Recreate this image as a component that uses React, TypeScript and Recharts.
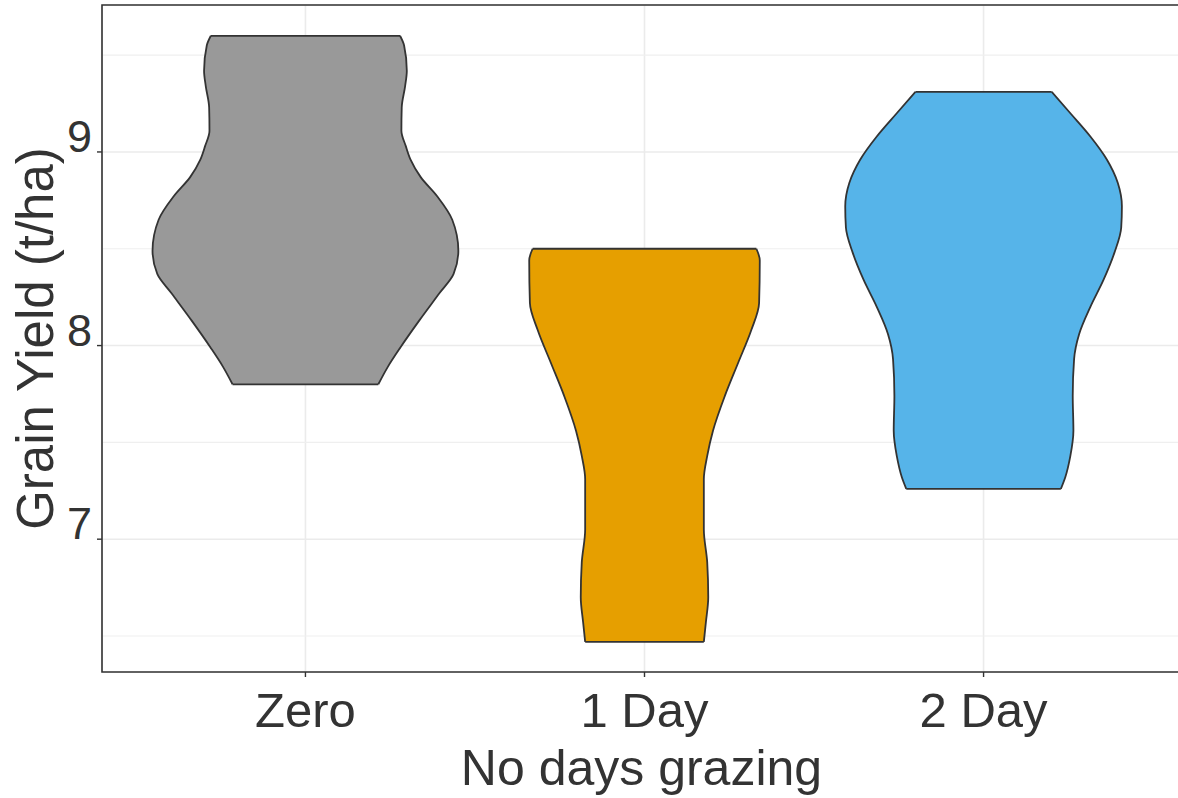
import { ComposedChart, Area, XAxis, YAxis, CartesianGrid, ReferenceLine, ReferenceArea } from 'recharts';

const categories = ['Zero', '1 Day', '2 Day'];

// yield levels (t/ha) read down each violin, with the half width at that level
// (half width in units of the distance between two categories)
const zeroYield = [9.6, 9.55, 9.42, 9.34, 9.23, 9.11, 9.03, 8.96, 8.87, 8.77, 8.65, 8.49, 8.37, 8.27, 8.13, 7.99, 7.89, 7.8];
const zeroHalfWidth = [0.279, 0.291, 0.299, 0.294, 0.284, 0.283, 0.296, 0.31, 0.34, 0.389, 0.433, 0.451, 0.437, 0.395, 0.336, 0.28, 0.243, 0.215];

const oneDayYield = [8.5, 8.44, 8.22, 8.08, 7.91, 7.74, 7.56, 7.43, 7.31, 7.05, 6.88, 6.7, 6.57, 6.47];
const oneDayHalfWidth = [0.33, 0.34, 0.338, 0.315, 0.276, 0.237, 0.202, 0.185, 0.175, 0.175, 0.185, 0.188, 0.181, 0.175];

const twoDayYield = [9.31, 9.2, 9.08, 8.96, 8.84, 8.72, 8.61, 8.48, 8.34, 8.2, 8.06, 7.93, 7.74, 7.56, 7.43, 7.32, 7.26];
const twoDayHalfWidth = [0.201, 0.256, 0.315, 0.364, 0.396, 0.408, 0.406, 0.386, 0.354, 0.315, 0.282, 0.267, 0.263, 0.265, 0.256, 0.241, 0.228];

const yTicks = [7, 8, 9];
const yMinorTicks = [6.5, 7.5, 8.5, 9.5];
const yDomain = [6.314, 9.759];
const xDomain = [0.4, 3.6];
const xTicks = [1, 2, 3];

const violins = [
  { key: 'zero', yields: zeroYield, widths: zeroHalfWidth, fill: '#999999' },
  { key: 'oneDay', yields: oneDayYield, widths: oneDayHalfWidth, fill: '#E69F00' },
  { key: 'twoDay', yields: twoDayYield, widths: twoDayHalfWidth, fill: '#56B4E9' },
];

// one row per level; the other violins get empty ranges so each area only sees its own rows
const rows = violins.flatMap((v, i) =>
  v.yields.map((y, j) => {
    const row: Record<string, any> = { y };
    violins.forEach((w, k) => {
      row[w.key] = k === i ? [i + 1 - v.widths[j], i + 1 + v.widths[j]] : [null, null];
    });
    return row;
  })
);

const FONT = '"Liberation Sans", Arial, sans-serif';
const TEXT = '#333333';
const OUTLINE = '#333333';

const XTick = (props: any) => {
  const { x, y, payload } = props;
  return (
    <text x={x} y={y + 48} textAnchor="middle" fontSize={49} fill={TEXT} fontFamily={FONT}>
      {categories[payload.value - 1]}
    </text>
  );
};

const YTick = (props: any) => {
  const { x, y, payload } = props;
  return (
    <text x={x - 3} y={y} textAnchor="end" fontSize={45} fill={TEXT} fontFamily={FONT}>
      {payload.value}
    </text>
  );
};

const XTitle = (props: any) => {
  const vb = props.viewBox || { x: 102, y: 672, width: 1085, height: 126 };
  return (
    <text x={vb.x + vb.width / 2 - 3} y={vb.y + vb.height - 13} textAnchor="middle" fontSize={50} fill={TEXT} fontFamily={FONT}>
      No days grazing
    </text>
  );
};

const YTitle = (props: any) => {
  const vb = props.viewBox || { x: 0, y: 5, width: 102, height: 667 };
  const cx = vb.x + 53;
  const cy = vb.y + vb.height / 2;
  return (
    <text x={cx} y={cy} transform={`rotate(-90 ${cx} ${cy})`} textAnchor="middle" fontSize={51} fill={TEXT} fontFamily={FONT}>
      Grain Yield (t/ha)
    </text>
  );
};

export default function App() {
  return (
    <div style={{ width: 1178, height: 798, overflow: 'hidden', background: '#fff' }}>
      <style>{'body{margin:0;overflow:hidden}'}</style>
      <ComposedChart
        width={1190}
        height={798}
        data={rows}
        layout="vertical"
        margin={{ top: 5, right: 3, left: 0, bottom: 0 }}
        style={{ fontFamily: FONT }}
      >
        <CartesianGrid stroke="#EBEBEB" strokeWidth={1.6} />
        {yMinorTicks.map((t) => (
          <ReferenceLine key={t} y={t} stroke="#EFEFEF" strokeWidth={1.2} zIndex={-90} />
        ))}
        <XAxis
          type="number"
          domain={xDomain}
          ticks={xTicks}
          allowDataOverflow
          axisLine={false}
          tickSize={5}
          tickLine={{ stroke: OUTLINE, strokeWidth: 1.4 }}
          tick={<XTick />}
          height={126}
          interval={0}
          label={(p: any) => <XTitle {...p} />}
        />
        <YAxis
          type="number"
          dataKey="y"
          domain={yDomain}
          ticks={yTicks}
          allowDataOverflow
          reversed
          axisLine={false}
          tickSize={5}
          tickLine={{ stroke: OUTLINE, strokeWidth: 1.4 }}
          tick={<YTick />}
          width={102}
          interval={0}
          label={(p: any) => <YTitle {...p} />}
        />
        {violins.map((v) => (
          <Area
            key={v.key}
            dataKey={v.key}
            type="monotone"
            fill={v.fill}
            fillOpacity={1}
            stroke={OUTLINE}
            strokeWidth={1.8}
            connectNulls
            dot={false}
            activeDot={false}
            isAnimationActive={false}
          />
        ))}
        {violins.map((v, i) =>
          [0, v.yields.length - 1].map((j) => (
            <ReferenceLine
              key={v.key + j}
              segment={[
                { x: i + 1 - v.widths[j], y: v.yields[j] },
                { x: i + 1 + v.widths[j], y: v.yields[j] },
              ]}
              stroke={OUTLINE}
              strokeWidth={1.8}
            />
          ))
        )}
        <ReferenceArea
          x1={xDomain[0]}
          x2={xDomain[1]}
          y1={yDomain[0]}
          y2={yDomain[1]}
          fill="none"
          stroke={OUTLINE}
          strokeWidth={1.6}
          ifOverflow="visible"
        />
      </ComposedChart>
    </div>
  );
}
